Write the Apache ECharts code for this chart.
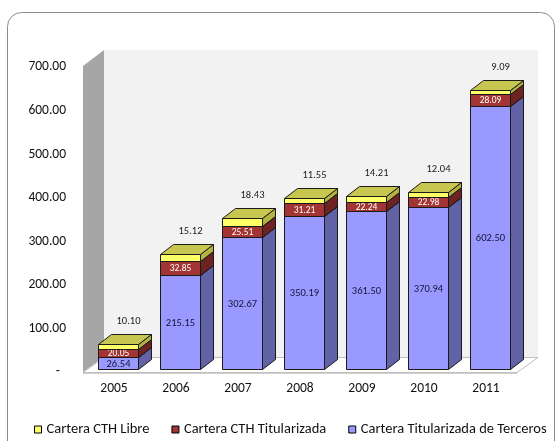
<!DOCTYPE html>
<html><head><meta charset="utf-8">
<script src="https://cdn.jsdelivr.net/npm/echarts@6/dist/echarts.min.js"></script>
<style>html,body{margin:0;padding:0;background:#fff}#c{width:557px;height:441px}</style>
</head><body><div id="c"></div>
<script>
// ---- data ----
const categories = ['2005','2006','2007','2008','2009','2010','2011'];
const terceros = [26.54, 215.15, 302.67, 350.19, 361.50, 370.94, 602.50];
const titularizada = [20.05, 32.85, 25.51, 31.21, 22.24, 22.98, 28.09];
const libre = [10.10, 15.12, 18.43, 11.55, 14.21, 12.04, 9.09];
const yTickLabels = ['-', '100.00', '200.00', '300.00', '400.00', '500.00', '600.00', '700.00'];
const seriesNames = ['Cartera CTH Libre', 'Cartera CTH Titularizada', 'Cartera Titularizada de Terceros'];

// ---- styles ----
const FONT = 'Carlito, Lato, sans-serif';
const EDGE = '#1a1a1a';
const BOX = { ox: 4, oy: -3, dx: 13, dy: -10, widthRatio: 0.66 };
const WALL = { dx: 21, dy: -16 };
const styles = {
  terceros: { front: '#9999FF', side: '#6262A6', top: '#7E7ED6', label: '#14143a', fontSize: 10.5, pos: 'inside' },
  titularizada: { front: '#A33434', side: '#6E2222', top: '#7E2828', label: '#ffffff', fontSize: 9.5, pos: 'inside' },
  libre: { front: '#FFFF66', side: '#B3B33E', top: '#C6C650', label: '#1a1a1a', fontSize: 10.5, pos: 'above' }
};

function stackData(values, below) {
  return values.map((v, i) => {
    const base = below ? below[i] : 0;
    return [i, base, base + v, v];
  });
}
const cum1 = terceros.slice();
const cum2 = terceros.map((v, i) => v + titularizada[i]);

function px(v) { return Math.round(v) + 0.5; }

function makeRender(st) {
  return function (params, api) {
    const i = api.value(0), b = api.value(1), t = api.value(2), v = api.value(3);
    const p0 = api.coord([i, b]), p1 = api.coord([i, t]);
    const w = api.size([1, 0])[0] * BOX.widthRatio;
    const xl = px(p0[0] - w / 2 + BOX.ox), xr = px(p0[0] + w / 2 + BOX.ox);
    const yb = px(p0[1] + BOX.oy), yt = px(p1[1] + BOX.oy);
    const dx = BOX.dx, dy = BOX.dy;
    const children = [
      { type: 'polygon', shape: { points: [[xr, yb], [xr + dx, yb + dy], [xr + dx, yt + dy], [xr, yt]] }, style: { fill: st.side, stroke: EDGE, lineWidth: 1 } },
      { type: 'polygon', shape: { points: [[xl, yt], [xr, yt], [xr + dx, yt + dy], [xl + dx, yt + dy]] }, style: { fill: st.top, stroke: EDGE, lineWidth: 1 } },
      { type: 'rect', shape: { x: xl, y: yt, width: xr - xl, height: yb - yt }, style: { fill: st.front, stroke: EDGE, lineWidth: 1 } }
    ];
    const txt = v.toFixed(2);
    if (st.pos === 'inside') {
      children.push({ type: 'text', x: (xl + xr) / 2, y: (yb + yt) / 2 + 0.5, style: { text: txt, fill: st.label, fontSize: st.fontSize, fontFamily: FONT, align: 'center', verticalAlign: 'middle' } });
    } else {
      children.push({ type: 'text', x: (xl + xr) / 2 + 10, y: yt - 23, style: { text: txt, fill: st.label, fontSize: st.fontSize, fontFamily: FONT, align: 'center', verticalAlign: 'middle' } });
    }
    return { type: 'group', children };
  };
}

function renderWalls(params, api) {
  const cs = params.coordSys;
  const x0 = cs.x, y0 = cs.y - 1, x1 = cs.x + cs.width, yB = cs.y + cs.height;
  const dx = WALL.dx, dy = WALL.dy;
  return {
    type: 'group', children: [
      { type: 'polygon', shape: { points: [[x0 + dx, y0 + dy], [x1 + dx, y0 + dy], [x1 + dx, yB + dy + 1], [x0 + dx, yB + dy + 1]] }, style: { fill: '#F2F2F2' } },
      { type: 'polygon', shape: { points: [[x0, y0], [x0 + dx, y0 + dy], [x0 + dx, yB + dy + 1], [x0, yB]] }, style: { fill: '#A6A6A6' } },
      { type: 'polygon', shape: { points: [[x0, yB + 0.5], [x1, yB + 0.5], [x1 + dx, yB + dy + 1.5], [x0 + dx, yB + dy + 1.5]] }, style: { fill: '#FFFFFF', stroke: '#BFBFBF', lineWidth: 1 } },
      { type: 'line', shape: { x1: x0, y1: yB + 1.5, x2: x1, y2: yB + 1.5 }, style: { stroke: '#D0D0D0', lineWidth: 1 } }
    ]
  };
}

const chart = echarts.init(document.getElementById('c'), null, { renderer: 'canvas' });
chart.setOption({
  backgroundColor: '#ffffff',
  animation: false,
  textStyle: { fontFamily: FONT },
  graphic: [
    { type: 'rect', shape: { x: 7.5, y: 12.5, width: 547, height: 460, r: 14 }, style: { fill: 'none', stroke: '#8c8c8c', lineWidth: 1 }, z: -10 }
  ],
  grid: { left: 83, right: 40, top: 67, bottom: 69, containLabel: false },
  xAxis: {
    type: 'category', data: categories,
    axisLine: { show: false }, axisTick: { show: false },
    axisLabel: { margin: 10, fontSize: 13.5, color: '#111', fontFamily: FONT }
  },
  yAxis: {
    type: 'value', min: 0, max: 700, interval: 100,
    axisLine: { show: false }, axisTick: { show: false }, splitLine: { show: false },
    axisLabel: {
      margin: 17, fontSize: 13.5, color: '#111', fontFamily: FONT,
      formatter: (val, idx) => idx === 0 ? '{d|' + yTickLabels[0] + '}' : yTickLabels[idx],
      rich: { d: { fontSize: 13.5, fontFamily: FONT, color: '#111', padding: [0, 6, 0, 0] } }
    }
  },
  legend: {
    data: seriesNames, left: 34, top: 422, padding: 0,
    icon: 'rect', itemWidth: 7, itemHeight: 7, itemGap: 22,
    itemStyle: { borderColor: '#000', borderWidth: 1 },
    textStyle: { fontSize: 14.5, color: '#111', fontFamily: FONT }
  },
  series: [
    { type: 'custom', name: '__walls', silent: true, data: [[0, 0]], renderItem: renderWalls, z: 1 },
    { type: 'custom', name: seriesNames[2], data: stackData(terceros, null), encode: { x: 0, y: [1, 2] }, renderItem: makeRender(styles.terceros), itemStyle: { color: styles.terceros.front }, z: 2 },
    { type: 'custom', name: seriesNames[1], data: stackData(titularizada, cum1), encode: { x: 0, y: [1, 2] }, renderItem: makeRender(styles.titularizada), itemStyle: { color: styles.titularizada.front }, z: 2 },
    { type: 'custom', name: seriesNames[0], data: stackData(libre, cum2), encode: { x: 0, y: [1, 2] }, renderItem: makeRender(styles.libre), itemStyle: { color: styles.libre.front }, z: 2 }
  ]
});
</script>
</body></html>
